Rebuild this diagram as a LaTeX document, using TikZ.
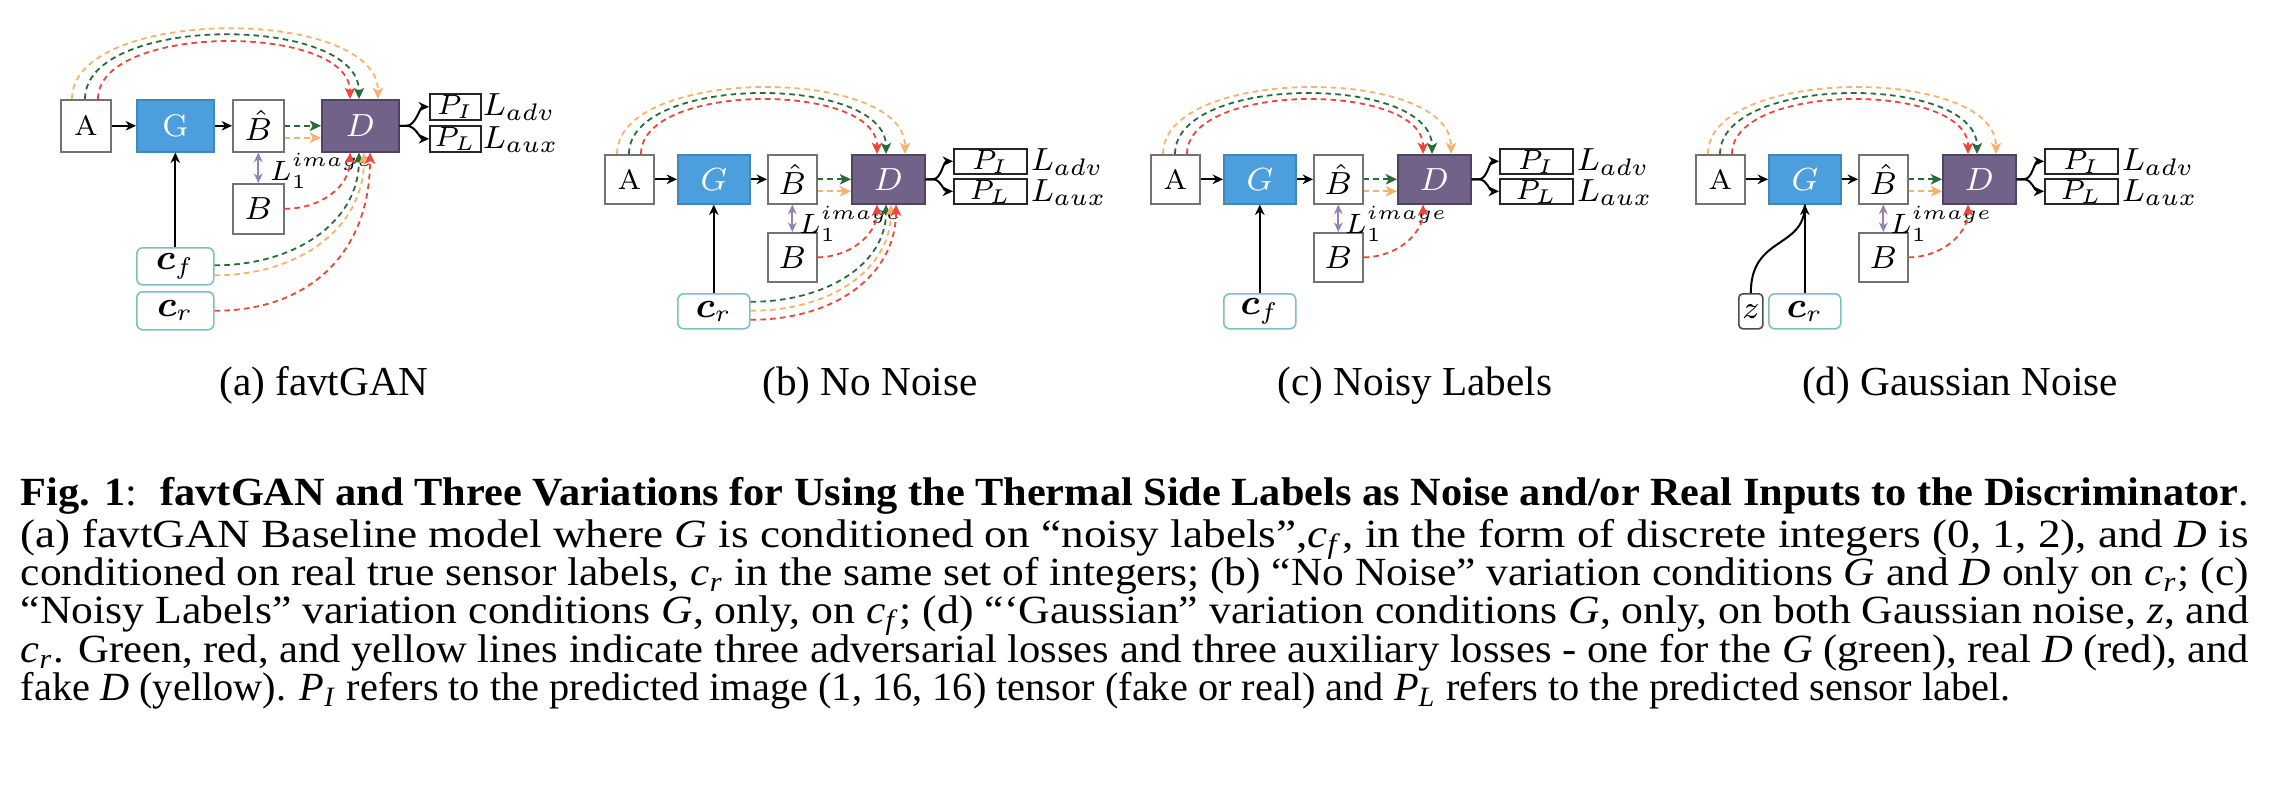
\documentclass[tikz,border=0pt]{standalone}
\usepackage{amsmath}
\usepackage{fontspec}
\usepackage{graphicx}
\newfontfamily\tms{Liberation Serif}
\usetikzlibrary{arrows.meta,calc}
\definecolor{gblue}{RGB}{76,159,220}
\definecolor{dpurp}{RGB}{114,98,138}
\definecolor{dgreen}{RGB}{40,106,58}
\definecolor{lred}{RGB}{238,68,58}
\definecolor{lorange}{RGB}{246,178,108}
\definecolor{lpurp}{RGB}{150,128,182}
\definecolor{cteal}{RGB}{125,192,196}
\newcommand\ci[1]{\textit{#1}}
\newcommand\cs[2]{\textit{#1}\textsubscript{\textit{#2}}}
\newcommand\capline[2]{\resizebox{#1}{\height}{\tms\fontsize{10}{12}\selectfont #2}}
\tikzset{
  bx/.style={draw=black!55, line width=0.4pt, inner sep=0pt, anchor=north west, fill=white},
  gbx/.style={bx, fill=gblue, draw=gblue!85!black, text=white},
  dbx/.style={bx, fill=dpurp, draw=dpurp!70!black, text=white},
  cbx/.style={bx, draw=cteal, rounded corners=1.5pt},
  zbx/.style={bx, draw=black!70, rounded corners=1pt},
  pbx/.style={bx, draw=black!85, text height=5pt, text depth=1pt},
  blk/.style={line width=0.5pt, -{Stealth[length=2.6pt,width=2.4pt]}},
  dsh/.style={line width=0.45pt, dash pattern=on 1.4pt off 1.05pt, -{Stealth[length=2.8pt,width=2.6pt,inset=0.7pt]}},
  dgr/.style={dsh, draw=dgreen},
  drd/.style={dsh, draw=lred},
  dor/.style={dsh, draw=lorange},
  pur/.style={line width=0.5pt, draw=lpurp, {Stealth[length=2.4pt,width=2.2pt]}-{Stealth[length=2.4pt,width=2.2pt]}},
  fA/.style={font=\fontsize{7}{8}\selectfont},
  fM/.style={font=\fontsize{7.8}{9}\selectfont},
  fP/.style={font=\fontsize{7.3}{8}\selectfont},
  fL/.style={font=\fontsize{8.5}{10}\selectfont},
  fS/.style={font=\fontsize{7}{8}\selectfont},
  fC/.style={font=\fontsize{9}{10}\selectfont},
  sub/.style={anchor=base, inner sep=0pt, font=\tms\fontsize{10.3}{12}\selectfont},
  capn/.style={anchor=base west, inner sep=0pt}
}
% panels (b)-(d): common part
\newcommand\corepanel[3]{%
\begin{scope}[shift={(#2,#3)}]
  \node[bx, fA, minimum width=12.25pt, minimum height=12.25pt] (#1A) at (0,0) {A};
  \node[gbx, fM, minimum width=18pt, minimum height=12.25pt] (#1G) at (73,0) {$G$};
  \node[bx, fM, minimum width=12.25pt, minimum height=12.25pt] (#1H) at (163,0) {$\hat{B}$};
  \node[dbx, fM, minimum width=18.25pt, minimum height=12.25pt] (#1D) at (247,0) {$D$};
  \node[pbx, fP, minimum width=18.25pt, minimum height=6.25pt] (#1PI) at (349,-6) {$P_I$};
  \node[pbx, fP, minimum width=18.25pt, minimum height=6.25pt] (#1PL) at (349,24) {$P_L$};
  \node[anchor=west, inner sep=0pt, fL] (#1La) at (426,8) {$L_{adv}$};
  \node[anchor=west, inner sep=0pt, fL] (#1Lx) at (426,39) {$L_{aux}$};
  \node[bx, fM, minimum width=12.25pt, minimum height=12.25pt] (#1B) at (163,78) {$B$};
  \node[anchor=base west, inner sep=0pt, fS] (#1L1) at (194,79) {$L_1^{image}$};
\end{scope}
  \draw[blk] (#1A) -- (#1G);
  \draw[blk] (#1G) -- (#1H);
  \draw[pur] (#1H) -- (#1B);
  \draw[dgr] (#1H.east) -- (#1D.west);
  \draw[dor] ($(#1H.east)+(0,12)$) -- ($(#1D.west)+(0,12)$);
  \draw[dor] ($(#1A.north west)+(13,0)$) .. controls +(0,-88) and +(0,-88) .. ($(#1D.north west)+(54,0)$);
  \draw[dgr] ($(#1A.north west)+(25,0)$) .. controls +(0,-80) and +(0,-80) .. ($(#1D.north west)+(35,0)$);
  \draw[drd] ($(#1A.north west)+(37,0)$) .. controls +(0,-72) and +(0,-72) .. ($(#1D.north west)+(26,0)$);
  \draw[drd] (#1B.east) .. controls +(32,0) and +(0,30) .. ($(#1D.south west)+(26,0)$);
  \draw[blk] (#1D.east) -- ++(7,0) .. controls +(9,0) and +(-10,0) .. (#1PI.west);
  \draw[blk] (#1D.east) -- ++(7,0) .. controls +(9,0) and +(-10,0) .. (#1PL.west);
}
\begin{document}
\begin{tikzpicture}[x=0.25pt, y=-0.25pt]
\useasboundingbox (0,0) rectangle (2288,794);

% ---------------- panel (a)
\node[bx, fA, minimum width=12.5pt, minimum height=13pt] (aA) at (60,99) {A};
\node[gbx, fM, minimum width=19.25pt, minimum height=13pt] (aG) at (136,99) {G};
\node[bx, fM, minimum width=12.75pt, minimum height=13pt] (aH) at (232,99) {$\hat{B}$};
\node[dbx, fM, minimum width=19.25pt, minimum height=13pt] (aD) at (321,99) {$D$};
\node[pbx, fP, minimum width=12.75pt, minimum height=6.5pt] (aPI) at (429,93) {$P_I$};
\node[pbx, fP, minimum width=12.75pt, minimum height=6.5pt] (aPL) at (429,125) {$P_L$};
\node[anchor=west, inner sep=0pt, fL] (aLa) at (482,107) {$L_{adv}$};
\node[anchor=west, inner sep=0pt, fL] (aLx) at (482,140) {$L_{aux}$};
\node[bx, fM, minimum width=12.75pt, minimum height=12.5pt] (aB) at (232,183) {$B$};
\node[anchor=base west, inner sep=0pt, fS] (aL1) at (269,180) {$L_1^{image}$};
\node[cbx, fC, minimum width=19.25pt, minimum height=9.25pt] (acf) at (136,247) {$\boldsymbol{c}_f$};
\node[cbx, fC, minimum width=19.25pt, minimum height=9.5pt] (acr) at (136,291) {$\boldsymbol{c}_r$};
\draw[blk] (aA) -- (aG);
\draw[blk] (aG) -- (aH);
\draw[blk] (acf) -- (aG);
\draw[pur] (aH) -- (aB);
\draw[dgr] (aH.east) -- (aD.west);
\draw[dor] ($(aH.east)+(0,12)$) -- ($(aD.west)+(0,12)$);
\draw[dor] ($(aA.north west)+(12,0)$) .. controls +(0,-93) and +(0,-93) .. ($(aD.north west)+(57,0)$);
\draw[dgr] ($(aA.north west)+(25,0)$) .. controls +(0,-85) and +(0,-85) .. ($(aD.north west)+(38,0)$);
\draw[drd] ($(aA.north west)+(38,0)$) .. controls +(0,-76) and +(0,-76) .. ($(aD.north west)+(29,0)$);
\draw[drd] (aB.east) .. controls +(35,0) and +(0,35) .. ($(aD.south west)+(29,0)$);
\draw[dgr] ($(acf.east)+(0,-1)$) .. controls +(80,0) and +(0,70) .. ($(aD.south west)+(38,0)$);
\draw[dor] ($(acf.east)+(0,9)$) .. controls +(85,0) and +(0,75) .. ($(aD.south west)+(43,0)$);
\draw[drd] (acr.east) .. controls +(95,0) and +(0,100) .. ($(aD.south west)+(49,0)$);
\draw[blk] (aD.east) -- ++(7,0) .. controls +(9,0) and +(-9,0) .. (aPI.west);
\draw[blk] (aD.east) -- ++(7,0) .. controls +(9,0) and +(-9,0) .. (aPL.west);

% ---------------- panel (b)
\corepanel{b}{604}{154}
\begin{scope}[shift={(604,154)}]
  \node[cbx, fC, minimum width=18pt, minimum height=8.75pt] (bcr) at (73,139) {$\boldsymbol{c}_r$};
\end{scope}
\draw[blk] (bcr) -- (bG);
\draw[dgr] ($(bcr.east)+(0,-9.5)$) .. controls +(75,0) and +(0,60) .. ($(bD.south west)+(35,0)$);
\draw[dor] ($(bcr.east)+(0,-0.5)$) .. controls +(80,0) and +(0,65) .. ($(bD.south west)+(40,0)$);
\draw[drd] ($(bcr.east)+(0,8.5)$) .. controls +(85,0) and +(0,70) .. ($(bD.south west)+(45,0)$);

% ---------------- panel (c)
\corepanel{c}{1150}{154}
\begin{scope}[shift={(1150,154)}]
  \node[cbx, fC, minimum width=18pt, minimum height=8.75pt] (ccf) at (73,139) {$\boldsymbol{c}_f$};
\end{scope}
\draw[blk] (ccf) -- (cG);

% ---------------- panel (d)
\corepanel{d}{1695}{154}
\begin{scope}[shift={(1695,154)}]
  \node[zbx, fM, minimum width=6pt, minimum height=8.75pt] (dz) at (43,139) {$z$};
  \node[cbx, fC, minimum width=18pt, minimum height=8.75pt] (dcr) at (73,139) {$\boldsymbol{c}_r$};
\end{scope}
\draw[blk] (dcr) -- (dG);
\draw[line width=0.5pt] (dz.north) .. controls +(0,-58) and +(0,45) .. (dG.south);

% ---------------- sub-captions
\node[sub] (sa) at (324,395) {(a) favtGAN};
\node[sub] (sb) at (870,395) {(b) No Noise};
\node[sub] (sc) at (1415,395) {(c) Noisy Labels};
\node[sub] (sd) at (1960,395) {(d) Gaussian Noise};

% ---------------- caption
\node[capn] (c1) at (20,505) {\capline{557pt}{\textbf{Fig. 1}:\hspace{0.55em}\textbf{favtGAN and Three Variations for Using the Thermal Side Labels as Noise and/or Real Inputs to the Discriminator}.}};
\node[capn] (c2) at (20,547) {\capline{557pt}{(a) favtGAN Baseline model where \ci{G} is conditioned on “noisy labels”,\cs{c}{f}, in the form of discrete integers (0, 1, 2), and \ci{D} is}};
\node[capn] (c3) at (20,585) {\capline{557pt}{conditioned on real true sensor labels, \cs{c}{r} in the same set of integers; (b) “No Noise” variation conditions \ci{G} and \ci{D} only on \cs{c}{r}; (c)}};
\node[capn] (c4) at (20,623) {\capline{557pt}{“Noisy Labels” variation conditions \ci{G}, only, on \cs{c}{f}; (d) “‘Gaussian” variation conditions \ci{G}, only, on both Gaussian noise, \ci{z}, and}};
\node[capn] (c5) at (20,662) {\capline{557pt}{\cs{c}{r}. Green, red, and yellow lines indicate three adversarial losses and three auxiliary losses - one for the \ci{G} (green), real \ci{D} (red), and}};
\node[capn] (c6) at (20,700) {\capline{497.5pt}{fake \ci{D} (yellow). \cs{P}{I} refers to the predicted image (1, 16, 16) tensor (fake or real) and \cs{P}{L} refers to the predicted sensor label.}};
\end{tikzpicture}
\end{document}
